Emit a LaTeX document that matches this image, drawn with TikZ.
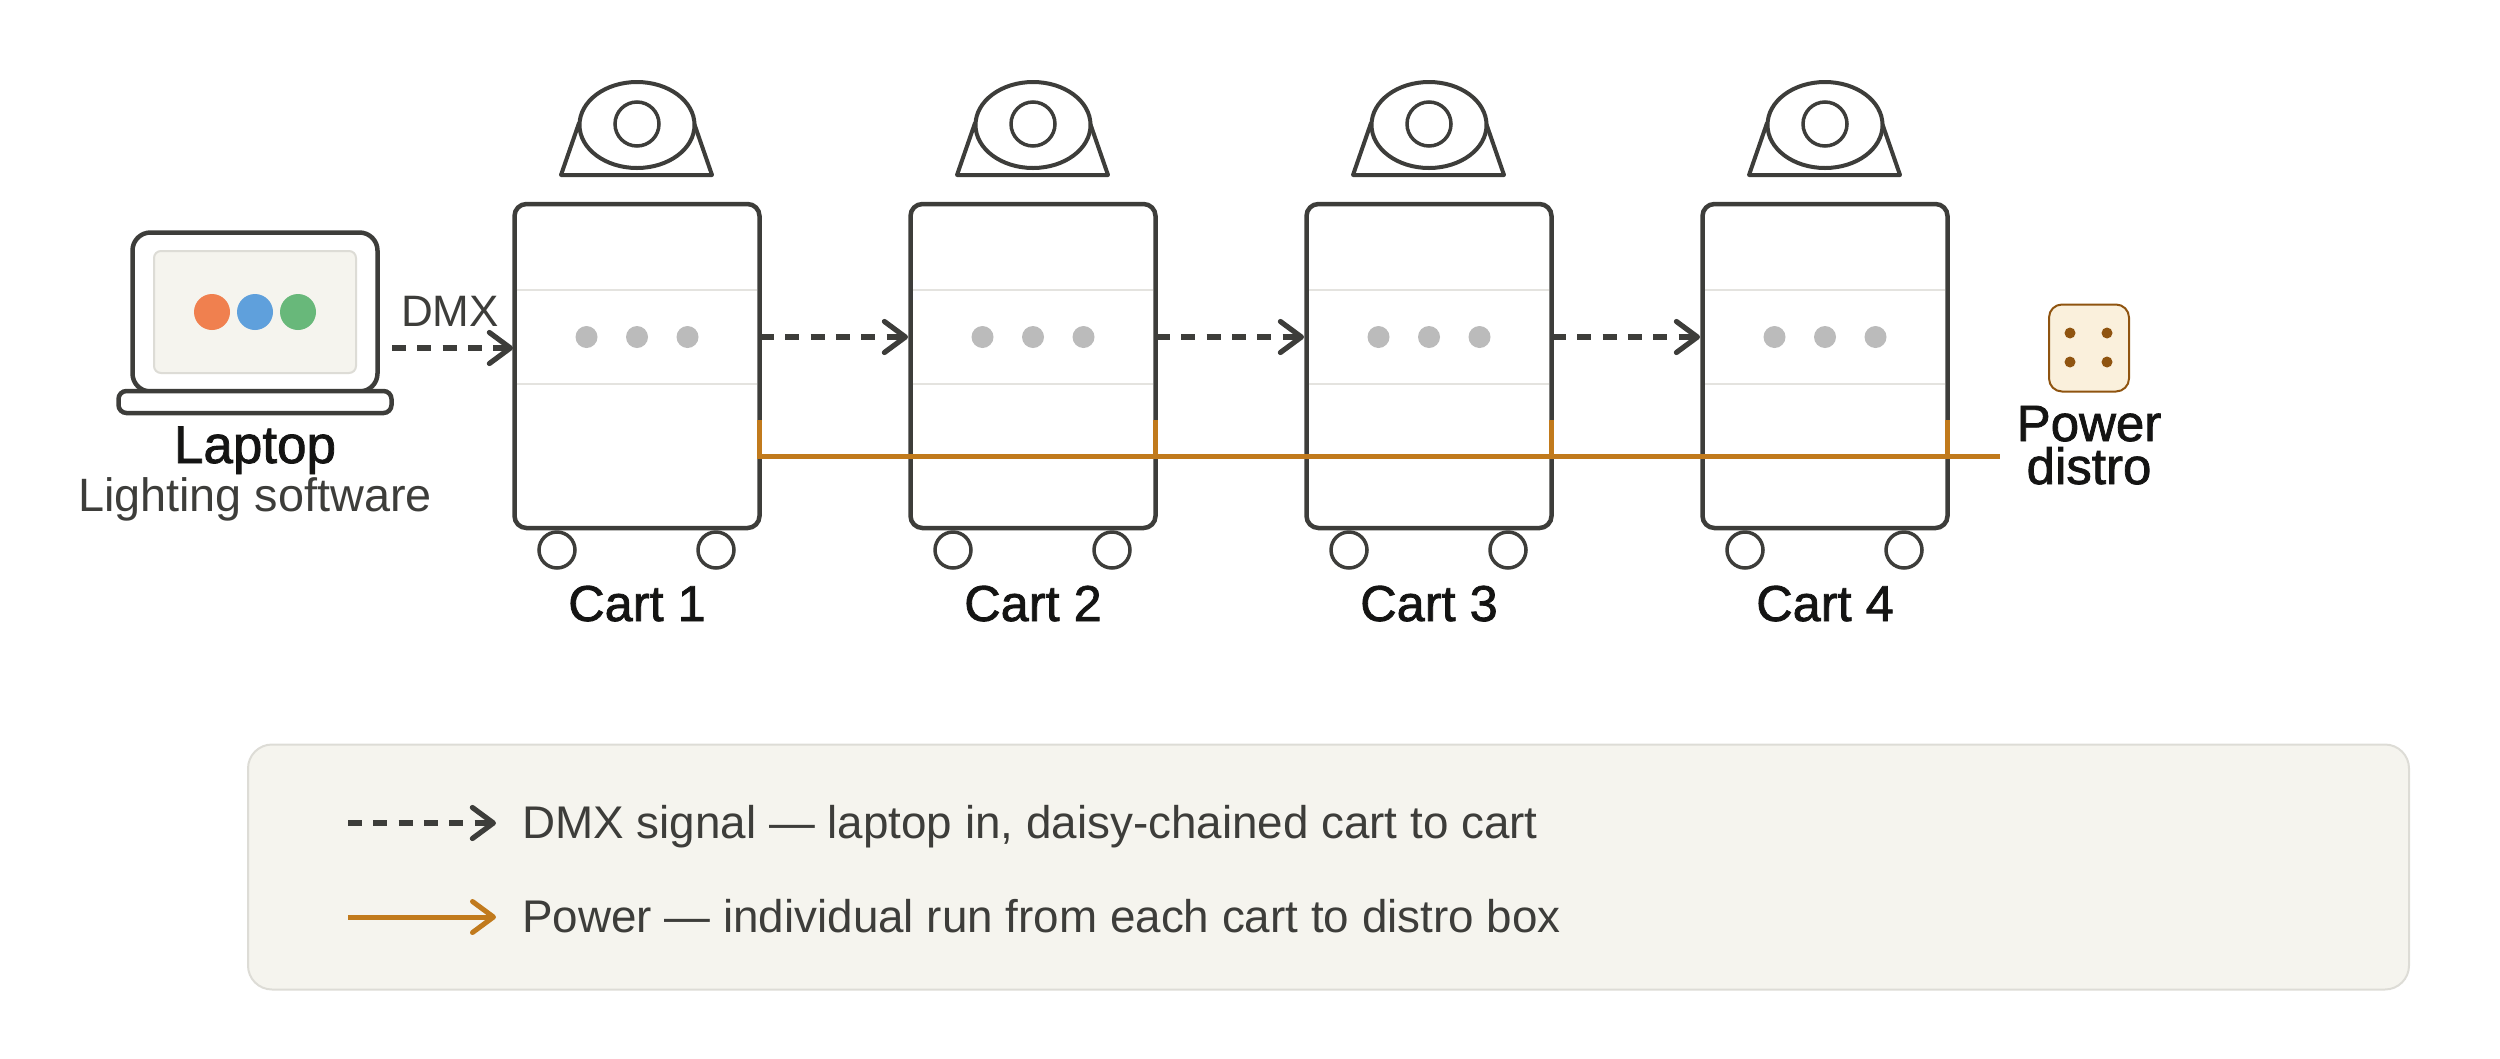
\documentclass[tikz,border=0pt]{standalone}
\usepackage{fontspec}
\setmainfont{Liberation Sans}
\newfontfamily\medfont[FakeBold=1.5]{Liberation Sans}
\usetikzlibrary{arrows.meta,shapes.geometric}
\definecolor{ink}{HTML}{3D3D3A}
\definecolor{labelink}{HTML}{141413}
\definecolor{pwr}{HTML}{C17A1C}
\definecolor{paper}{HTML}{F5F4EE}
\definecolor{rule}{HTML}{DDDCD6}
\definecolor{softrule}{HTML}{E4E3DF}
\definecolor{dotgrey}{HTML}{BBBBBB}
\definecolor{dotred}{HTML}{F0804F}
\definecolor{dotblue}{HTML}{5FA0DC}
\definecolor{dotgreen}{HTML}{68B87A}
\definecolor{distrofill}{HTML}{FAF0DC}
\definecolor{distroink}{HTML}{8F5410}
\tikzset{
  x=1pt,y=-1pt,
  box/.style={rectangle,outer sep=0pt,inner sep=0pt},
  cartbox/.style={box,draw=ink,fill=white,line width=4.5pt,rounded corners=12pt,minimum width=245pt,minimum height=324pt},
  dot/.style={circle,outer sep=0pt,inner sep=0pt,minimum size=#1},
  wheel/.style={circle,draw=ink,fill=white,line width=3.5pt,outer sep=0pt,inner sep=0pt,minimum size=36pt},
  lamp/.style={ellipse,draw=ink,fill=white,line width=4pt,outer sep=0pt,inner sep=0pt,minimum width=115pt,minimum height=86pt},
  head/.style={-{Straight Barb[length=21pt,width=31pt,round]}},
  dmx/.style={draw=ink,line width=5.2pt,dash pattern=on 14pt off 11.3pt,head},
  power/.style={draw=pwr,line width=5pt},
  powerarrow/.style={power,head},
  cartlabel/.style={anchor=base,font=\medfont\fontsize{50.5}{50.5}\selectfont,text=labelink,inner sep=0pt},
  bodytext/.style={anchor=base west,font=\fontsize{45.8}{45.8}\selectfont,text=ink,inner sep=0pt},
}
\begin{document}
\begin{tikzpicture}
\useasboundingbox (0,0) rectangle (2500,1058);
% laptop
\node[box,draw=ink,fill=white,line width=4.5pt,rounded corners=18pt,minimum width=245pt,minimum height=159pt] (screen) at (255,312) {};
\node[box,draw=rule,fill=paper,line width=2pt,rounded corners=7pt,minimum width=202pt,minimum height=122pt] (panel) at (255,312) {};
\node[dot=36pt,fill=dotred] (lred) at (212,312) {};
\node[dot=36pt,fill=dotblue] (lblue) at (255,312) {};
\node[dot=36pt,fill=dotgreen] (lgreen) at (298,312) {};
\node[box,draw=ink,fill=white,line width=4.5pt,rounded corners=8pt,minimum width=273pt,minimum height=22pt] (lbase) at (255,402) {};
\node[cartlabel,font=\medfont\fontsize{53}{53}\selectfont] (laptop) at (255,463) {Laptop};
\node[anchor=base,inner sep=0pt,text=ink,font=\fontsize{46.8}{46.8}\selectfont] (soft) at (255,511) {Lighting software};
% carts
\foreach \i/\cx in {1/637,2/1033,3/1429,4/1825}{
  \draw[ink,line width=4pt,line join=round] (\cx-76,175) -- (\cx+75,175) -- (\cx+57,123) -- (\cx-58,123) -- cycle;
  \node[lamp] (lamp\i) at (\cx,125) {};
  \node[dot=44pt,draw=ink,fill=white,line width=3.5pt] (lens\i) at (\cx,124) {};
  \node[wheel] (wl\i) at (\cx-80,550) {};
  \node[wheel] (wr\i) at (\cx+79,550) {};
  \node[cartbox] (cart\i) at (\cx,366) {};
  \draw[softrule,line width=2pt] (\cx-120.2,290) -- (\cx+120.2,290);
  \draw[softrule,line width=2pt] (\cx-120.2,384) -- (\cx+120.2,384);
  \node[dot=22pt,fill=dotgrey] (da\i) at (\cx-50.5,337) {};
  \node[dot=22pt,fill=dotgrey] (db\i) at (\cx,337) {};
  \node[dot=22pt,fill=dotgrey] (dc\i) at (\cx+50.5,337) {};
  \node[cartlabel] (clabel\i) at (\cx,621) {Cart \i};
  \coordinate (dmxin\i) at (\cx-125,337);
  \coordinate (dmxout\i) at (\cx+123,337);
  \coordinate (ptop\i) at (\cx+122,420);
}
% DMX
\coordinate (laptopout) at (392,348);
\coordinate (cartin) at (513,348);
\draw[dmx] (laptopout) -- (cartin);
\node[anchor=base,inner sep=0pt,text=ink,font=\fontsize{44}{44}\selectfont] (dmxlabel) at (450,326) {DMX};
\draw[dmx] (dmxout1) -- (dmxin2);
\draw[dmx] (dmxout2) -- (dmxin3);
\draw[dmx] (dmxout3) -- (dmxin4);
% power
\coordinate (busend) at (2000,456);
\foreach \i in {1,2,3,4}{\draw[power] (ptop\i) -- (ptop\i |- busend);}
\draw[power] (ptop1 |- busend) ++(-2,0) -- (busend);
% distro
\node[box,draw=distroink,fill=distrofill,line width=2pt,rounded corners=13pt,minimum width=80pt,minimum height=87pt] (distro) at (2089,348) {};
\node[dot=11pt,fill=distroink] (pa) at (2070,333) {};
\node[dot=11pt,fill=distroink] (pb) at (2107,333) {};
\node[dot=11pt,fill=distroink] (pc) at (2070,362) {};
\node[dot=11pt,fill=distroink] (pd) at (2107,362) {};
\node[cartlabel,font=\medfont\fontsize{51}{51}\selectfont] (pw1) at (2089,441) {Power};
\node[cartlabel,font=\medfont\fontsize{51}{51}\selectfont] (pw2) at (2089,484) {distro};
% legend
\node[box,draw=rule,fill=paper,line width=2pt,rounded corners=24pt,minimum width=2161pt,minimum height=245pt] (legend) at (1328.5,867) {};
\coordinate (ka) at (348,823); \coordinate (kb) at (496,823);
\coordinate (kc) at (348,917); \coordinate (kd) at (496,917);
\draw[dmx] (ka) -- (kb);
\draw[powerarrow] (kc) -- (kd);
\node[bodytext] (la) at (522,838) {DMX signal — laptop in, daisy-chained cart to cart};
\node[bodytext] (lb) at (522,932) {Power — individual run from each cart to distro box};
\end{tikzpicture}
\end{document}
